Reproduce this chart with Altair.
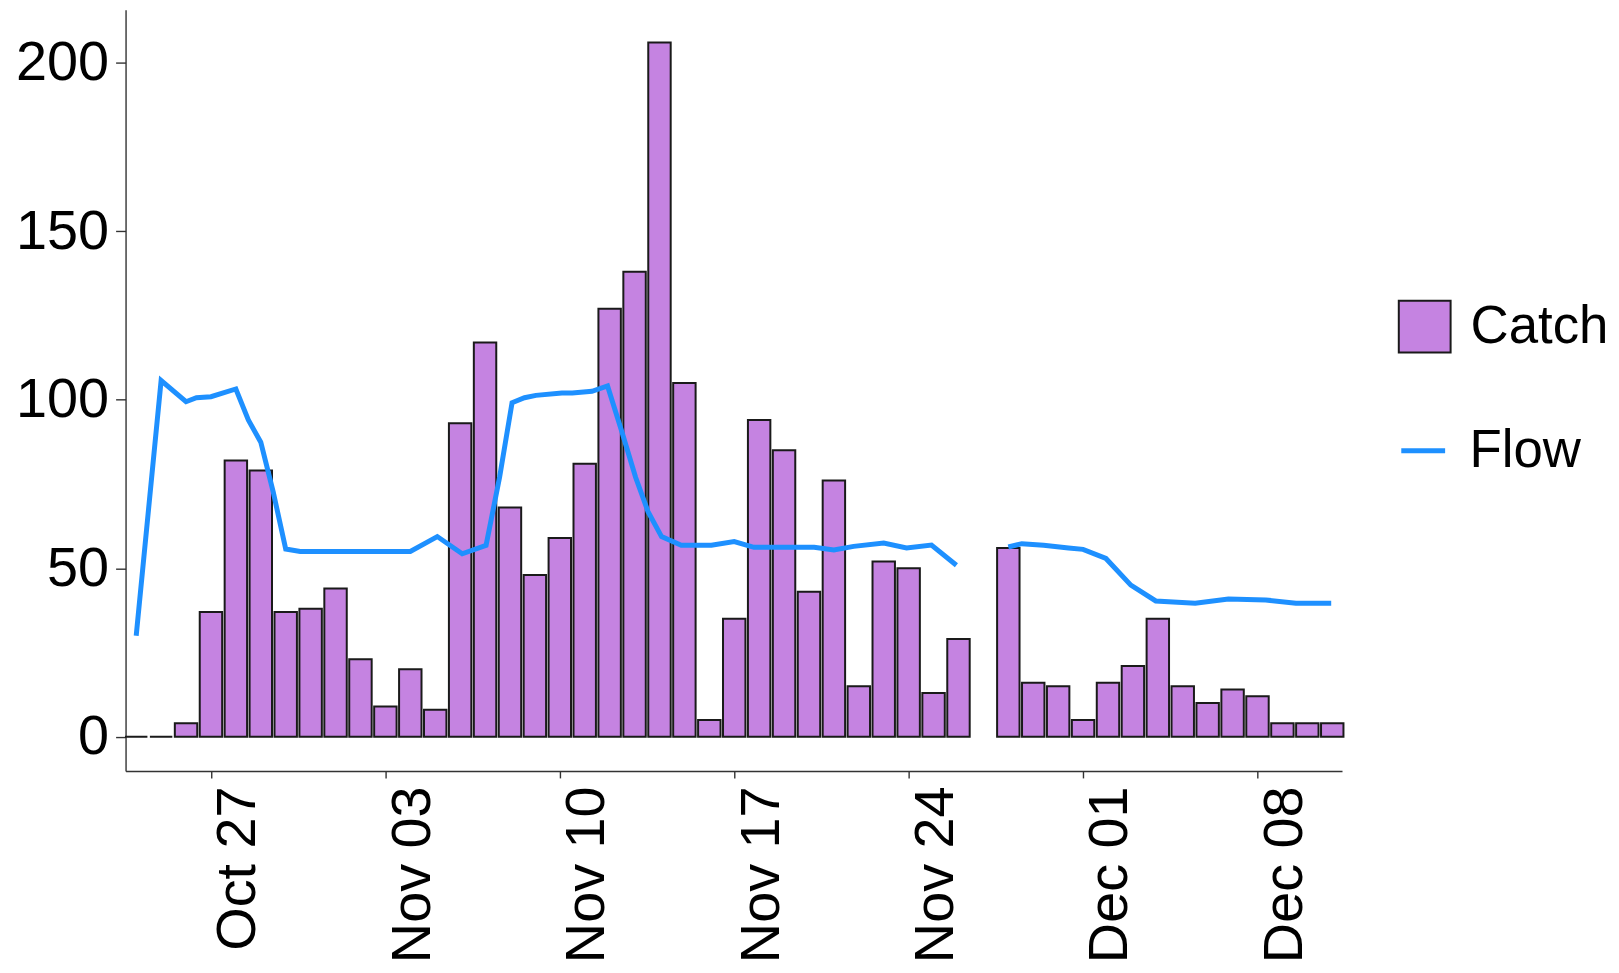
import altair as alt
import pandas as pd

# ---------------- data ----------------
catch_dates = [
    "2019-10-24", "2019-10-25", "2019-10-26", "2019-10-27", "2019-10-28", "2019-10-29",
    "2019-10-30", "2019-10-31", "2019-11-01", "2019-11-02", "2019-11-03", "2019-11-04",
    "2019-11-05", "2019-11-06", "2019-11-07", "2019-11-08", "2019-11-09", "2019-11-10",
    "2019-11-11", "2019-11-12", "2019-11-13", "2019-11-14", "2019-11-15", "2019-11-16",
    "2019-11-17", "2019-11-18", "2019-11-19", "2019-11-20", "2019-11-21", "2019-11-22",
    "2019-11-23", "2019-11-24", "2019-11-25", "2019-11-26",
    "2019-11-28", "2019-11-29", "2019-11-30", "2019-12-01", "2019-12-02", "2019-12-03",
    "2019-12-04", "2019-12-05", "2019-12-06", "2019-12-07", "2019-12-08", "2019-12-09",
    "2019-12-10", "2019-12-11",
]
catch_values = [
    0, 0, 4, 37, 82, 79,
    37, 38, 44, 23, 9, 20,
    8, 93, 117, 68, 48, 59,
    81, 127, 138, 206, 105, 5,
    35, 94, 85, 43, 76, 15,
    52, 50, 13, 29,
    56, 16, 15, 5, 16, 21,
    35, 15, 10, 14, 12, 4,
    4, 4,
]

flow_times = [
    "2019-10-24 00:00", "2019-10-25 00:00", "2019-10-26 00:00", "2019-10-26 10:00",
    "2019-10-27 00:00", "2019-10-28 00:00", "2019-10-28 12:00", "2019-10-29 00:00",
    "2019-10-29 12:00", "2019-10-30 00:00", "2019-10-30 14:00", "2019-11-04 00:00",
    "2019-11-05 02:00", "2019-11-06 02:00", "2019-11-07 01:00", "2019-11-07 14:00",
    "2019-11-08 02:00", "2019-11-08 14:00", "2019-11-09 01:00", "2019-11-10 02:00",
    "2019-11-10 12:00", "2019-11-11 07:00", "2019-11-11 22:00", "2019-11-12 12:00",
    "2019-11-13 01:00", "2019-11-13 13:00", "2019-11-14 02:00", "2019-11-14 21:00",
    "2019-11-16 02:00", "2019-11-17 00:00", "2019-11-17 19:00", "2019-11-20 05:00",
    "2019-11-21 00:00", "2019-11-21 19:00", "2019-11-23 00:00", "2019-11-23 22:00",
    "2019-11-24 22:00", "2019-11-25 22:00",
    "2019-11-28 00:00", "2019-11-28 13:00", "2019-11-29 10:00", "2019-11-30 10:00",
    "2019-12-01 00:00", "2019-12-01 22:00", "2019-12-02 22:00", "2019-12-03 22:00",
    "2019-12-05 12:00", "2019-12-06 20:00", "2019-12-08 08:00", "2019-12-09 13:00",
    "2019-12-10 23:00",
]
flow_values = [
    30, 105.7, 99.4, 100.6,
    100.9, 103.2, 94, 87.4,
    72.6, 55.7, 55, 55,
    59.4, 54.3, 56.8, 77,
    99.1, 100.6, 101.3, 102,
    102, 102.5, 104.1, 90.3,
    77, 66.8, 59.4, 56.8,
    56.8, 57.9, 56.2, 56.2,
    55.4, 56.5, 57.5, 56,
    56.9, 50.9,
    56.3, 57.3, 56.8, 56,
    55.6, 52.9, 45, 40.3,
    39.6, 40.9, 40.6, 39.6,
    39.6,
]
flow_segment = [1] * 38 + [2] * 13

tick_dates = ["2019-10-27", "2019-11-03", "2019-11-10", "2019-11-17",
              "2019-11-24", "2019-12-01", "2019-12-08"]
y_ticks = [0, 50, 100, 150, 200]


def ms(s):
    return int(pd.Timestamp(s, tz="UTC").value // 10**6)


DAY = 86400000
HALF_BAR = 0.45 * DAY

bar_df = pd.DataFrame({
    "start": [ms(d) - HALF_BAR for d in catch_dates],
    "end": [ms(d) + HALF_BAR for d in catch_dates],
    "catch": catch_values,
    "series": ["Catch"] * len(catch_values),
})
flow_df = pd.DataFrame({
    "t": [ms(t) for t in flow_times],
    "flow": flow_values,
    "seg": flow_segment,
    "series": ["Flow"] * len(flow_values),
})

FONT = "Liberation Sans"

x_scale = alt.Scale(type="utc", domain=[ms("2019-10-23 13:45"), ms("2019-12-11 09:24")])
y_scale = alt.Scale(domain=[-10.14, 215.7], nice=False, zero=False)

x_axis = alt.Axis(values=[ms(d) for d in tick_dates], format="%b %d", labelAngle=270,
                  labelAlign="right", labelBaseline="top", labelFontSize=56, labelFont=FONT,
                  labelColor="#000000", tickSize=7, tickWidth=1.4, tickColor="#333333",
                  domainColor="#333333", domainWidth=1.4, labelPadding=8, grid=False,
                  labelOverlap=False, labelFlush=False, title=None)
y_axis = alt.Axis(values=y_ticks, labelFontSize=56, labelFont=FONT, labelColor="#000000",
                  tickSize=10, tickWidth=1.4, tickColor="#333333", domainColor="#333333",
                  domainWidth=1.4, labelPadding=7, grid=False, title=None)

bars = alt.Chart(bar_df).mark_bar(stroke="#1a1a1a", strokeWidth=2).encode(
    x=alt.X("start:T", scale=x_scale, axis=x_axis, title=None),
    x2="end:T",
    y=alt.Y("catch:Q", scale=y_scale, axis=y_axis, title=None),
    y2=alt.datum(0),
    fill=alt.Fill("series:N", scale=alt.Scale(domain=["Catch"], range=["#C583E1"]),
                  legend=alt.Legend(title=None, orient="none", legendX=1277, legendY=291,
                                    symbolType="square", symbolSize=2704,
                                    symbolStrokeColor="#1a1a1a", symbolStrokeWidth=2,
                                    labelFontSize=53, labelFont=FONT, labelColor="#000000",
                                    labelOffset=19, padding=0)),
)

line = alt.Chart(flow_df).mark_line(strokeWidth=5).encode(
    x=alt.X("t:T", scale=x_scale, title=None),
    y=alt.Y("flow:Q", scale=y_scale, title=None),
    detail="seg:N",
    stroke=alt.Stroke("series:N", scale=alt.Scale(domain=["Flow"], range=["#1E90FF"]),
                      legend=alt.Legend(title=None, orient="none", legendX=1276, legendY=416,
                                        symbolType="stroke", symbolSize=1936,
                                        symbolStrokeWidth=5,
                                        labelFontSize=53, labelFont=FONT, labelColor="#000000",
                                        labelOffset=20, padding=0)),
)

chart = alt.layer(bars, line).properties(
    width=1221,
    height=764,
    autosize=alt.AutoSizeParams(type="none"),
    padding={"left": 118, "top": 0, "right": 270, "bottom": 195},
).configure_view(stroke=None)

chart.save("out.html", embed_options={"renderer": "svg", "actions": False})
